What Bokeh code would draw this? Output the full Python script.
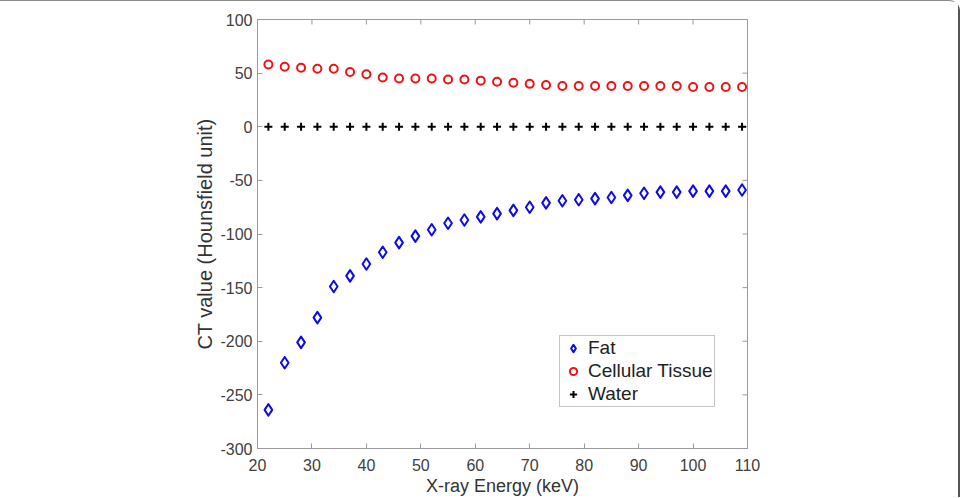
from bokeh.plotting import figure
from bokeh.models import Range1d, Legend, LegendItem, FixedTicker, ColumnDataSource
from bokeh.embed import file_html
from bokeh.resources import INLINE

# X-ray energy sampling points (keV)
energy_kev = [22, 25, 28, 31, 34, 37, 40, 43, 46, 49,
              52, 55, 58, 61, 64, 67, 70, 73, 76, 79,
              82, 85, 88, 91, 94, 97, 100, 103, 106, 109]

# CT numbers (Hounsfield units) for each material
fat_hu = [-264, -220, -201, -178, -149, -139, -128, -117, -108, -102,
          -96, -90, -87, -84, -81, -78, -75, -71, -69, -68,
          -67, -66, -64, -62, -61, -61, -60, -60, -60, -59]
tissue_hu = [58, 56, 55, 54, 54, 51, 49, 46, 45, 45,
             45, 44, 44, 43, 42, 41, 40, 39, 38, 38,
             38, 38, 38, 38, 38, 38, 37, 37, 37, 37]
water_hu = [0, 0, 0, 0, 0, 0, 0, 0, 0, 0,
            0, 0, 0, 0, 0, 0, 0, 0, 0, 0,
            0, 0, 0, 0, 0, 0, 0, 0, 0, 0]

x_ticks = [20, 30, 40, 50, 60, 70, 80, 90, 100, 110]
x_tick_labels = ["20", "30", "40", "50", "60", "70", "80", "90", "100", "110"]
y_ticks = [-300, -250, -200, -150, -100, -50, 0, 50, 100]
y_tick_labels = ["-300", "-250", "-200", "-150", "-100", "-50", "0", "50", "100"]

X_MIN, X_MAX = 20, 110
Y_MIN, Y_MAX = -300, 100

source = ColumnDataSource(data=dict(energy=energy_kev, fat=fat_hu,
                                    tissue=tissue_hu, water=water_hu))

FONT = "Liberation Sans"
AXIS_GRAY = "#9a9a9a"
TEXT_GRAY = "#404040"

FRAME_W, FRAME_H = 490, 429
p = figure(width=960, height=497,
           x_range=Range1d(X_MIN, X_MAX), y_range=Range1d(Y_MIN, Y_MAX),
           output_backend="svg", toolbar_location=None,
           min_border_left=257, min_border_right=960 - 257 - FRAME_W,
           min_border_top=18, min_border_bottom=497 - 18 - FRAME_H,
           x_axis_label="X-ray Energy (keV)",
           y_axis_label="CT value (Hounsfield unit)")

p.styles = {"border-top": "1px solid #8c8c8c",
            "border-right": "2px solid #555555",
            "border-top-right-radius": "11px"}

p.xgrid.visible = False
p.ygrid.visible = False
p.outline_line_color = AXIS_GRAY
p.background_fill_color = "white"
p.border_fill_color = "white"

for ax, ticks, labels in ((p.xaxis[0], x_ticks, x_tick_labels),
                          (p.yaxis[0], y_ticks, y_tick_labels)):
    ax.ticker = FixedTicker(ticks=ticks)
    ax.major_label_overrides = dict(zip(ticks, labels))
    ax.major_tick_in = 5
    ax.major_tick_out = 0
    ax.minor_tick_line_color = None
    ax.axis_line_color = AXIS_GRAY
    ax.major_tick_line_color = AXIS_GRAY
    ax.major_label_text_font = FONT
    ax.major_label_text_font_size = "16px"
    ax.major_label_text_color = TEXT_GRAY
    ax.axis_label_text_font = FONT
    ax.axis_label_text_font_style = "normal"
    ax.axis_label_text_color = "#333333"

p.xaxis[0].major_label_standoff = 10
p.xaxis[0].axis_label_standoff = 2
p.xaxis[0].axis_label_text_font_size = "18px"
p.yaxis[0].major_label_standoff = 5
p.yaxis[0].axis_label_standoff = 1
p.yaxis[0].axis_label_text_font_size = "20px"

# inward ticks along the top and right edges of the box
tick_len = 5
dy = tick_len * (Y_MAX - Y_MIN) / FRAME_H
dx = tick_len * (X_MAX - X_MIN) / FRAME_W
inner_x = x_ticks[1:-1]
inner_y = y_ticks[1:-1]
p.segment(x0=inner_x, y0=[Y_MAX] * len(inner_x), x1=inner_x,
          y1=[Y_MAX - dy] * len(inner_x), line_color=AXIS_GRAY, line_width=1)
p.segment(x0=[X_MAX] * len(inner_y), y0=inner_y, x1=[X_MAX - dx] * len(inner_y),
          y1=inner_y, line_color=AXIS_GRAY, line_width=1)

r_fat = p.scatter("energy", "fat", source=source, marker="diamond", size=11.5,
                  fill_color=None, line_color="#0c0ce6", line_width=2,
                  line_join="round")
r_tissue = p.scatter("energy", "tissue", source=source, marker="circle", size=8,
                     fill_color=None, line_color="#ee1414", line_width=2)
r_water = p.scatter("energy", "water", source=source, marker="cross", size=8,
                    fill_color=None, line_color="black", line_width=2)

legend = Legend(items=[LegendItem(label="Fat", renderers=[r_fat]),
                       LegendItem(label="Cellular Tissue", renderers=[r_tissue]),
                       LegendItem(label="Water", renderers=[r_water])],
                location=(302, 41))
legend.label_text_font = FONT
legend.label_text_font_size = "19px"
legend.label_text_color = "#222222"
legend.border_line_color = "#8c8c8c"
legend.border_line_width = 1
legend.background_fill_color = "white"
legend.background_fill_alpha = 1.0
legend.padding = 1
legend.spacing = 1
legend.margin = 0
legend.label_height = 20
legend.glyph_width = 24
legend.glyph_height = 18
legend.label_standoff = 3
p.add_layout(legend)

open("out.html", "w").write(file_html(p, INLINE))
